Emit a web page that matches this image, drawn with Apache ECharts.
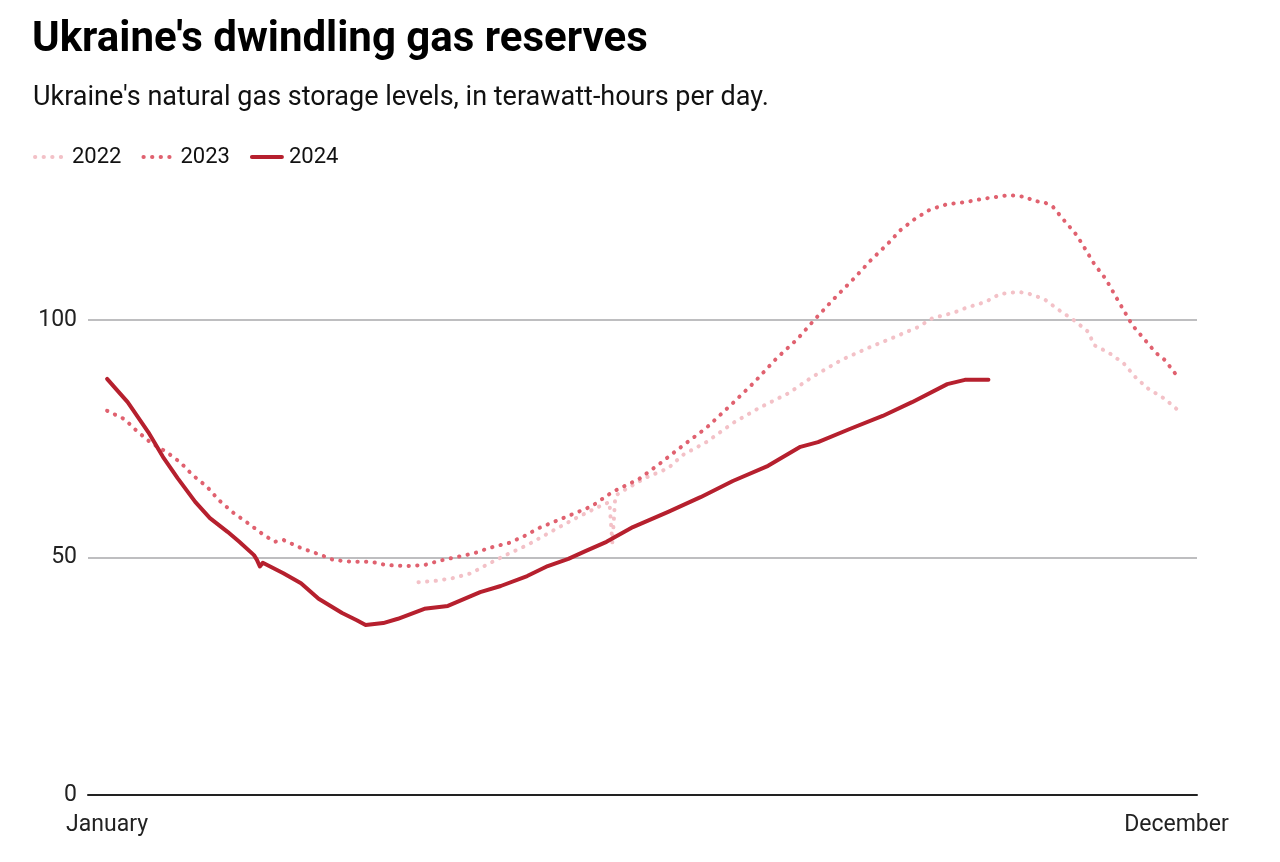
<!DOCTYPE html>
<html>
<head>
<meta charset="utf-8">
<script src="https://cdn.jsdelivr.net/npm/echarts@6/dist/echarts.min.js"></script>
<style>
  html, body { margin: 0; padding: 0; background: #fff; }
  #chart { width: 1280px; height: 862px; }
</style>
</head>
<body>
<div id="chart"></div>
<script>
// ---- Data (day of year, storage level in TWh) ----
const days2022 = [106, 112, 118, 124, 129, 135, 143, 151, 159, 167, 171, 172, 173, 175, 183, 191, 196, 204, 213, 222, 232, 240, 250, 259, 268, 276, 281, 288, 293, 299, 304, 310, 313, 319, 324, 329, 334, 336, 341, 346, 350, 354, 360, 364];
const vals2022 = [44.8, 45.1, 45.7, 46.7, 48.4, 50.3, 52.6, 55.4, 58.1, 60.6, 61.7, 53.0, 63.0, 63.8, 66.7, 68.8, 71.6, 74.3, 78.3, 81.5, 84.6, 88.0, 91.6, 94.1, 96.4, 98.5, 100.4, 101.5, 102.7, 103.8, 105.5, 105.9, 105.7, 104.4, 102.1, 100.0, 97.5, 94.7, 93.1, 90.9, 88.0, 85.7, 83.4, 81.3];

const days2023 = [0, 6, 10, 15, 20, 25, 29, 34, 38, 43, 48, 53, 57, 60, 66, 72, 77, 83, 90, 95, 102, 108, 113, 119, 125, 130, 137, 142, 147, 156, 165, 172, 181, 188, 195, 204, 213, 220, 228, 235, 241, 247, 254, 260, 266, 270, 275, 280, 286, 292, 298, 307, 313, 315, 319, 322, 326, 330, 333, 336, 340, 343, 346, 349, 353, 357, 360, 364];
const vals2023 = [80.9, 79.1, 76.7, 74.1, 72.3, 70.0, 67.4, 64.9, 62.1, 59.4, 57.2, 54.9, 53.3, 53.7, 52.0, 50.7, 49.5, 49.1, 49.1, 48.4, 48.2, 48.4, 49.3, 50.1, 50.9, 52.0, 53.1, 54.5, 56.2, 58.5, 60.8, 63.8, 66.5, 69.7, 73.1, 77.3, 82.5, 86.7, 92.0, 96.0, 100.2, 104.2, 108.6, 112.6, 116.2, 118.9, 121.3, 123.2, 124.4, 124.8, 125.5, 126.3, 125.9, 125.1, 124.8, 123.8, 120.8, 117.9, 114.9, 111.8, 108.6, 105.3, 102.1, 98.9, 96.0, 93.1, 91.6, 88.4];

const days2024 = [0, 3, 7, 14, 19, 24, 30, 35, 41, 45, 50, 51, 52, 53, 60, 66, 72, 80, 85, 88, 94, 99, 108, 116, 127, 134, 143, 150, 157, 163, 170, 179, 191, 202, 213, 225, 236, 242, 253, 264, 274, 286, 292, 300];
const vals2024 = [87.6, 85.5, 82.7, 76.4, 71.2, 66.7, 61.7, 58.3, 55.4, 53.3, 50.5, 49.5, 48.1, 48.9, 46.7, 44.6, 41.3, 38.3, 36.8, 35.8, 36.2, 37.1, 39.2, 39.8, 42.7, 44.0, 46.1, 48.2, 49.7, 51.4, 53.3, 56.4, 59.6, 62.7, 66.1, 69.3, 73.3, 74.3, 77.1, 79.8, 82.7, 86.5, 87.4, 87.4];

const seriesNames = ['2022', '2023', '2024'];
const xTickDays = [0, 364];
const xTickLabels = ['January', 'December'];
const yTicks = [0, 50, 100];

const pair = (d, v) => d.map((x, i) => [x, v[i]]);

const FONT = 'Roboto, "Noto Sans", sans-serif';
const colors = ['#f3c1c7', '#e0616f', '#b6202e'];

const chart = echarts.init(document.getElementById('chart'), null, { renderer: 'canvas' });

const dotted = (c) => ({ color: c, width: 4, type: [0.3, 8.3], cap: 'round', join: 'round' });

chart.setOption({
  animation: false,
  backgroundColor: '#fff',
  textStyle: { fontFamily: FONT },
  title: [
    {
      text: "Ukraine's dwindling gas reserves",
      left: 32, top: 19, padding: 0,
      textStyle: { fontFamily: FONT, fontWeight: 'bold', fontSize: 42, color: '#000' }
    },
    {
      text: "Ukraine's natural gas storage levels, in terawatt-hours per day.",
      left: 33, top: 85, padding: 0,
      textStyle: { fontFamily: FONT, fontWeight: 'normal', fontSize: 27, color: '#111' }
    }
  ],
  legend: {
    left: 33, top: 146, padding: 0,
    itemWidth: 30, itemHeight: 4, itemGap: 20,
    data: seriesNames,
    lineStyle: { width: 4, cap: 'round' },
    itemStyle: { opacity: 0 },
    textStyle: { fontFamily: FONT, fontSize: 22, color: '#111', padding: [0, 0, 0, 2] }
  },
  grid: { left: 88, right: 83, top: 177.5, bottom: 67, containLabel: false },
  xAxis: {
    type: 'value',
    min: -6.5, max: 371,
    splitLine: { show: false },
    axisTick: { show: false },
    axisLine: { show: true, lineStyle: { color: '#222', width: 2 } },
    axisLabel: {
      customValues: xTickDays,
      formatter: (v) => { const i = xTickDays.indexOf(v); return i >= 0 ? xTickLabels[i] : ''; },
      fontFamily: FONT, fontSize: 23, color: '#222', margin: 19
    }
  },
  yAxis: {
    type: 'value',
    min: 0, max: 130, interval: 50,
    axisLine: { show: false },
    axisTick: { show: false },
    splitLine: { show: true, showMinLine: false, showMaxLine: false, lineStyle: { color: '#a8a8ab', width: 1.5 } },
    axisLabel: {
      customValues: yTicks,
      fontFamily: FONT, fontSize: 23, color: '#222', margin: 11
    }
  },
  series: [
    { name: seriesNames[0], type: 'line', data: pair(days2022, vals2022), symbol: 'none', lineStyle: dotted(colors[0]), itemStyle: { color: colors[0] }, z: 2 },
    { name: seriesNames[1], type: 'line', data: pair(days2023, vals2023), symbol: 'none', lineStyle: dotted(colors[1]), itemStyle: { color: colors[1] }, z: 3 },
    { name: seriesNames[2], type: 'line', data: pair(days2024, vals2024), symbol: 'none', lineStyle: { color: colors[2], width: 4, cap: 'round', join: 'round' }, itemStyle: { color: colors[2] }, z: 4 }
  ]
});
</script>
</body>
</html>
